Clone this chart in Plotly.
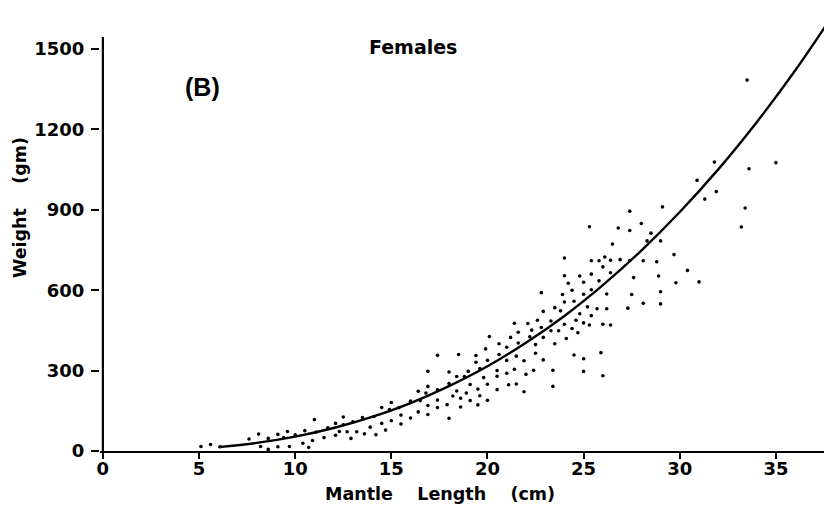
import plotly.graph_objects as go

# Mantle length (cm) and total weight (gm) of individual females
mantle_length = [
    5.1, 5.6, 6.1, 7.6, 8.1, 8.6, 9.1, 9.4, 9.6, 10.0, 10.5, 11.0, 11.1, 10.9, 10.4,
    9.7, 9.1, 8.6, 8.2, 10.7, 11.7, 11.5, 12.1, 12.1, 12.5, 12.5, 12.3, 12.7, 13.0,
    12.9, 13.2, 13.5, 13.6, 13.9, 14.1, 14.2, 14.5, 14.5, 14.7, 14.9, 15.0, 15.0,
    15.4, 15.5, 15.5, 16.0, 16.0, 16.4, 16.4, 16.5, 16.9, 16.9, 16.8, 16.9, 16.9,
    17.4, 17.4, 17.4, 17.4, 17.9, 18.0, 18.0, 18.0, 18.2, 18.4, 18.4, 18.5, 18.6,
    18.6, 18.8, 19.0, 18.9, 19.1, 19.1, 19.4, 19.4, 19.5, 19.5, 19.6, 19.6, 19.8,
    19.9, 20.0, 20.0, 20.0, 20.1, 20.5, 20.5, 20.6, 20.6, 20.5, 21.0, 21.0, 21.0,
    21.2, 21.1, 21.4, 21.5, 21.4, 21.5, 21.6, 21.6, 21.9, 22.0, 21.9, 22.1, 22.2,
    22.3, 22.5, 22.4, 22.5, 22.6, 22.8, 22.8, 22.9, 22.9, 22.9, 23.3, 23.3, 23.4,
    23.4, 23.5, 23.5, 23.7, 23.8, 23.9, 24.0, 24.0, 24.0, 24.0, 24.1, 24.2, 24.4,
    24.4, 24.5, 24.5, 24.6, 24.8, 24.7, 24.8, 25.0, 25.0, 25.0, 25.0, 25.0, 25.2,
    25.4, 25.3, 25.4, 25.4, 25.4, 25.7, 25.8, 25.8, 26.0, 25.9, 26.0, 26.1, 26.0,
    26.2, 26.2, 26.4, 26.5, 26.4, 26.4, 25.3, 26.8, 26.9, 27.4, 27.4, 27.4, 27.3,
    27.5, 27.6, 28.0, 28.1, 28.1, 28.3, 28.5, 28.8, 28.9, 29.0, 29.0, 29.0, 29.1,
    29.7, 29.8, 30.4, 30.9, 31.0, 31.3, 31.9, 33.5, 31.8, 33.6, 35.0, 33.4, 33.2,
]
weight = [
    17, 24, 16, 45, 63, 47, 62, 50, 73, 60, 76, 117, 71, 39, 29,
    17, 16, 6, 17, 13, 87, 50, 103, 59, 127, 98, 73, 72, 109,
    47, 72, 125, 64, 89, 129, 61, 162, 103, 78, 155, 181, 113,
    162, 134, 101, 186, 123, 223, 146, 188, 297, 241, 216, 170, 136,
    357, 228, 190, 162, 173, 252, 295, 122, 205, 224, 278, 360, 164,
    197, 278, 297, 216, 188, 248, 356, 331, 231, 172, 308, 206, 274,
    381, 338, 249, 189, 427, 300, 279, 400, 360, 229, 387, 338, 290,
    424, 247, 477, 354, 305, 250, 443, 403, 337, 286, 221, 476, 426,
    451, 365, 301, 397, 488, 591, 461, 521, 424, 340, 485, 449, 301,
    241, 535, 400, 449, 523, 584, 654, 720, 556, 473, 420, 626, 457,
    600, 559, 358, 488, 653, 441, 512, 630, 585, 478, 344, 297, 538,
    660, 470, 710, 602, 505, 531, 710, 635, 687, 367, 473, 724, 281,
    586, 531, 665, 772, 712, 470, 837, 832, 714, 895, 823, 711, 533,
    584, 647, 849, 710, 551, 784, 813, 706, 653, 784, 594, 549, 911,
    733, 628, 674, 1010, 631, 940, 968, 1384, 1078, 1053, 1076, 907, 836,
]

# Length-weight regression curve
curve_length = [6, 8, 10, 12, 14, 16, 18, 20, 22, 24, 26, 28, 30, 32, 34, 36, 38]
curve_weight = [14.6, 30.4, 53.9, 85.8, 127, 179, 242, 316, 404, 504, 619,
                748, 892, 1051, 1227, 1420, 1631]

x_ticks = [0, 5, 10, 15, 20, 25, 30, 35]
y_ticks = [0, 300, 600, 900, 1200, 1500]
y_axis_top = 1545

BOLD = "DejaVu Sans"

fig = go.Figure()
fig.add_trace(go.Scatter(
    x=mantle_length, y=weight, mode="markers",
    marker=dict(color="black", size=3.6, line=dict(width=0)),
    showlegend=False, hoverinfo="skip",
))
fig.add_trace(go.Scatter(
    x=curve_length, y=curve_weight, mode="lines", line_shape="spline",
    line=dict(color="black", width=2.4),
    showlegend=False, hoverinfo="skip",
))

# vertical axis line stops at the top tick instead of the frame top
fig.add_shape(type="line", xref="x", yref="y", x0=0, x1=0, y0=0, y1=y_axis_top,
              line=dict(color="black", width=2.2), layer="above")

fig.update_layout(
    width=824, height=509,
    margin=dict(l=100, r=0, t=0, b=58),
    paper_bgcolor="white", plot_bgcolor="white",
    xaxis=dict(
        range=[-0.15, 37.5], tickvals=x_ticks, ticktext=[str(v) for v in x_ticks],
        showgrid=False, zeroline=False, showline=True, linecolor="black", linewidth=2.2,
        ticks="outside", ticklen=6, tickwidth=2, tickcolor="black",
        ticklabelstandoff=-6,
        tickfont=dict(family=BOLD, size=18, color="black", weight="bold"),
    ),
    yaxis=dict(
        range=[0, 1683], tickvals=y_ticks, ticktext=[str(v) for v in y_ticks],
        showgrid=False, zeroline=False, showline=False,
        ticks="outside", ticklen=8, tickwidth=2, tickcolor="black",
        ticklabelstandoff=3,
        tickfont=dict(family=BOLD, size=18, color="black", weight="bold"),
    ),
    annotations=[
        dict(text="Females", xref="paper", yref="paper", x=0.432, y=0.896,
             showarrow=False, xanchor="center", yanchor="middle",
             font=dict(family=BOLD, size=19, color="black", weight="bold")),
        dict(text="(B)", xref="paper", yref="paper", x=0.141, y=0.807,
             showarrow=False, xanchor="center", yanchor="middle",
             font=dict(family="Liberation Sans", size=25, color="black", weight="bold")),
        dict(text="Mantle\u00a0\u00a0\u00a0 Length\u00a0\u00a0\u00a0 (cm)",
             xref="paper", yref="paper", x=0.469, y=-0.0953,
             showarrow=False, xanchor="center", yanchor="middle",
             font=dict(family=BOLD, size=17.5, color="black", weight="bold")),
        dict(text="Weight\u00a0\u00a0\u00a0 (gm)",
             xref="paper", yref="paper", x=-0.1105, y=0.541, textangle=-90,
             showarrow=False, xanchor="center", yanchor="middle",
             font=dict(family=BOLD, size=17.5, color="black", weight="bold")),
    ],
)

fig.write_html("out.html")
